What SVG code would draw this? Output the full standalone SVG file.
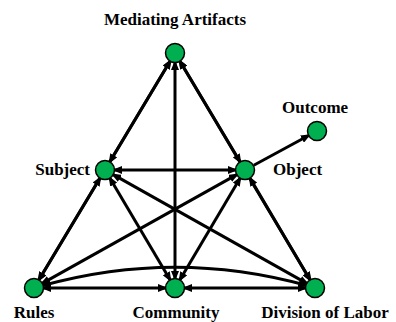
<svg xmlns="http://www.w3.org/2000/svg" width="396" height="322" viewBox="0 0 396 322">
<style>
.e{stroke:#000;stroke-width:3;fill:none;marker-start:url(#ah);marker-end:url(#ah)}
.n{fill:#00b050;stroke:#000;stroke-width:1.5}
.t{font-family:"Liberation Serif","Times New Roman",serif;font-weight:bold;font-size:17px;fill:#000}
</style>
<defs>
<marker id="ah" markerUnits="userSpaceOnUse" markerWidth="10" markerHeight="8" refX="7" refY="4" orient="auto-start-reverse">
<path d="M0,0 L10,4 L0,8 z" fill="#000"/>
</marker>
</defs>
<rect width="396" height="322" fill="#fff"/>
<g id="connectors">
<line class="e" x1="169.9" y1="61.6" x2="110.1" y2="161.4"/>
<line class="e" x1="180.1" y1="61.6" x2="239.9" y2="161.4"/>
<line class="e" x1="169.9" y1="61.6" x2="39.1" y2="279.4"/>
<line class="e" x1="180.1" y1="61.6" x2="309.9" y2="279.4"/>
<line class="e" x1="175" y1="63" x2="175" y2="278"/>
<line class="e" x1="115" y1="170" x2="235" y2="170"/>
<line class="e" x1="99.8" y1="178.6" x2="39.2" y2="279.4"/>
<line class="e" x1="250.2" y1="178.6" x2="309.8" y2="279.4"/>
<line class="e" x1="110.1" y1="178.6" x2="169.9" y2="279.4"/>
<line class="e" x1="239.9" y1="178.6" x2="180.1" y2="279.4"/>
<line class="e" x1="113.7" y1="174.9" x2="306.3" y2="283.1"/>
<line class="e" x1="236.3" y1="174.9" x2="42.7" y2="283.1"/>
<line class="e" x1="44" y1="288" x2="165" y2="288"/>
<line class="e" x1="185" y1="288" x2="305" y2="288"/>
<path class="e" d="M43.6,285.3 Q175,249 306.4,285.3"/>
<line x1="253.8" y1="165.2" x2="308.2" y2="135.8" stroke="#000" stroke-width="3" marker-end="url(#ah)"/>
</g>
<g id="mediating-artifacts"><circle class="n" cx="175" cy="53" r="9.5"/><text class="t" x="175" y="25" text-anchor="middle">Mediating Artifacts</text></g>
<g id="subject"><circle class="n" cx="105" cy="170" r="9.5"/><text class="t" x="90" y="175" text-anchor="end">Subject</text></g>
<g id="object"><circle class="n" cx="245" cy="170" r="9.5"/><text class="t" x="273" y="175">Object</text></g>
<g id="outcome"><circle class="n" cx="317" cy="131" r="9.5"/><text class="t" x="282" y="113">Outcome</text></g>
<g id="rules"><circle class="n" cx="34" cy="288" r="9.5"/><text class="t" x="34" y="318" text-anchor="middle">Rules</text></g>
<g id="community"><circle class="n" cx="175" cy="288" r="9.5"/><text class="t" x="176" y="318" text-anchor="middle">Community</text></g>
<g id="division-of-labor"><circle class="n" cx="315" cy="288" r="9.5"/><text class="t" x="325" y="318" text-anchor="middle">Division of Labor</text></g>
</svg>
